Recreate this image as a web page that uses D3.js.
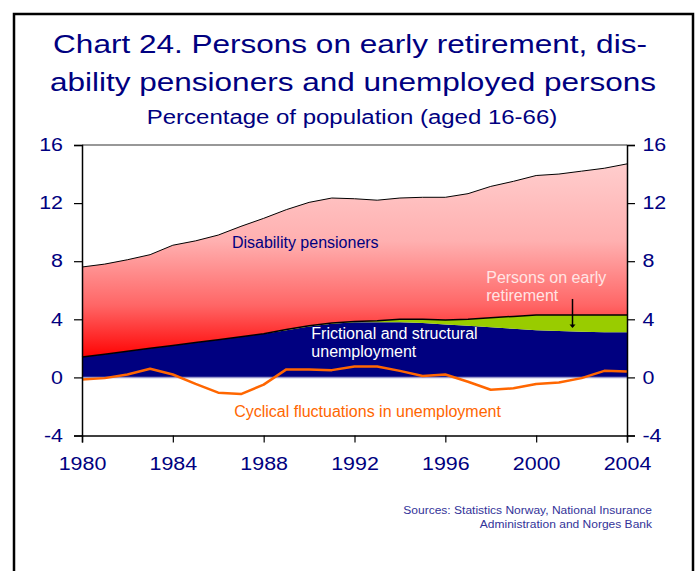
<!DOCTYPE html>
<html>
<head>
<meta charset="utf-8">
<script src="https://cdn.jsdelivr.net/npm/d3@7"></script>
<style>
  body { margin: 0; background: #fff; }
  svg text { font-family: "Liberation Sans", Arial, sans-serif; }
</style>
</head>
<body>
<div id="chart"></div>
<script>
const W = 699, H = 571;

// --- data ---
const years = [1980, 1981, 1982, 1983, 1984, 1985, 1986, 1987, 1988, 1989, 1990, 1991, 1992,
  1993, 1994, 1995, 1996, 1997, 1998, 1999, 2000, 2001, 2002, 2003, 2004];
const frictional = [1.4, 1.6, 1.8, 2.0, 2.2, 2.4, 2.6, 2.8, 3.0, 3.25, 3.5, 3.7, 3.8,
  3.8, 3.8, 3.75, 3.65, 3.55, 3.45, 3.35, 3.25, 3.2, 3.15, 3.1, 3.1];
const earlyRetirement = [0, 0, 0, 0, 0, 0, 0, 0, 0, 0.05, 0.05, 0.05, 0.05,
  0.1, 0.2, 0.25, 0.3, 0.45, 0.65, 0.85, 1.05, 1.1, 1.15, 1.2, 1.2];
const disability = [6.2, 6.2, 6.3, 6.45, 6.9, 7.0, 7.2, 7.6, 7.95, 8.25, 8.5, 8.6, 8.45,
  8.3, 8.35, 8.4, 8.45, 8.65, 9.05, 9.3, 9.6, 9.7, 9.9, 10.1, 10.4];
const cyclical = [-0.15, -0.05, 0.2, 0.6, 0.2, -0.45, -1.05, -1.15, -0.5, 0.55, 0.55, 0.5, 0.75,
  0.75, 0.45, 0.1, 0.2, -0.3, -0.85, -0.75, -0.45, -0.35, -0.05, 0.45, 0.4];
const yTicks = [-4, 0, 4, 8, 12, 16];
const xTicks = [1980, 1984, 1988, 1992, 1996, 2000, 2004];

const NAVY = "#000080";

const svg = d3.select("#chart").append("svg")
  .attr("width", W).attr("height", H);

// outer frame (open at the bottom)
svg.append("path")
  .attr("d", `M14,${H} L14,14 L693,14 L693,${H}`)
  .attr("fill", "none").attr("stroke", "#000").attr("stroke-width", 2.5);

// text in the original is a bit wider than Arial, so stretch it horizontally
function wideText(px, py, sx, size, str) {
  return svg.append("text")
    .attr("transform", `translate(${px},${py}) scale(${sx},1)`)
    .attr("text-anchor", "middle")
    .attr("font-size", size).attr("fill", NAVY)
    .text(str);
}
wideText(350, 53, 1.19, 26.5, "Chart 24. Persons on early retirement, dis-");
wideText(353, 91, 1.19, 26.5, "ability pensioners and unemployed persons");
wideText(352, 124, 1.23, 19.5, "Percentage of population (aged 16-66)");

const x = d3.scaleLinear().domain([1980, 2004]).range([82, 627]);
const y = d3.scaleLinear().domain([-4, 16]).range([435.5, 145]);

// gradient for disability pensioners
const defs = svg.append("defs");
const grad = defs.append("linearGradient")
  .attr("id", "redGrad")
  .attr("gradientUnits", "userSpaceOnUse")
  .attr("x1", 0).attr("x2", 0)
  .attr("y1", y(16)).attr("y2", y(1.3));
[[0, "#ffd4d4"], [0.45, "#ffb0b0"], [0.75, "#ff6666"], [1, "#ff0000"]].forEach(([o, c]) => {
  grad.append("stop").attr("offset", o).attr("stop-color", c);
});

// stacked areas
const rows = years.map((yr, i) => ({
  year: yr,
  frictional: frictional[i],
  early: earlyRetirement[i],
  disability: disability[i]
}));
const keys = ["frictional", "early", "disability"];
const stacked = d3.stack().keys(keys)(rows);
const fills = { frictional: NAVY, early: "#99cc00", disability: "url(#redGrad)" };

const area = d3.area()
  .x(d => x(d.data.year))
  .y0(d => y(d[0]))
  .y1(d => y(d[1]));

svg.append("g").selectAll("path")
  .data(stacked)
  .join("path")
  .attr("d", area)
  .attr("fill", d => fills[d.key]);

// outline lines
const topLine = d3.line().x(d => x(d.data.year)).y(d => y(d[1]));
svg.append("path").datum(stacked[2])
  .attr("d", topLine).attr("fill", "none").attr("stroke", "#000").attr("stroke-width", 1);
svg.append("path").datum(stacked[1])
  .attr("d", topLine).attr("fill", "none").attr("stroke", "#000").attr("stroke-width", 1.5);

// zero line
svg.append("line")
  .attr("x1", x(1980)).attr("x2", x(2004))
  .attr("y1", y(0)).attr("y2", y(0))
  .attr("stroke", "#9999cc").attr("stroke-width", 1.5);

// cyclical line
svg.append("path").datum(years.map((yr, i) => [yr, cyclical[i]]))
  .attr("d", d3.line().x(d => x(d[0])).y(d => y(d[1])))
  .attr("fill", "none").attr("stroke", "#ff6600").attr("stroke-width", 2.5)
  .attr("stroke-linejoin", "round");

// plot frame top
svg.append("line")
  .attr("x1", x(1980)).attr("x2", x(2004))
  .attr("y1", y(16)).attr("y2", y(16))
  .attr("stroke", "#333").attr("stroke-width", 1.2);

// axes
const fmt = d => String(d);
const leftAxis = svg.append("g").attr("transform", `translate(${x(1980)},0)`)
  .call(d3.axisLeft(y).tickValues(yTicks).tickSize(8).tickPadding(8).tickFormat(fmt));
const rightAxis = svg.append("g").attr("transform", `translate(${x(2004)},0)`)
  .call(d3.axisRight(y).tickValues(yTicks).tickSize(8).tickPadding(5).tickFormat(fmt));
const bottomAxis = svg.append("g").attr("transform", `translate(0,${y(-4)})`)
  .call(d3.axisBottom(x).tickValues(xTicks).tickSize(7).tickPadding(15).tickFormat(fmt));

[leftAxis, rightAxis, bottomAxis].forEach(g => {
  g.select(".domain").attr("stroke", "#000").attr("stroke-width", 1.5);
  g.selectAll(".tick line").attr("stroke", "#000").attr("stroke-width", 1.2);
  g.selectAll(".tick text").attr("fill", NAVY).attr("font-size", 18)
    .attr("transform", "scale(1.19,1)")
    .style("font-family", '"Liberation Sans", Arial, sans-serif');
});

// annotations
svg.append("text").attr("x", x(1986.6)).attr("y", y(8.9))
  .attr("font-size", 16).attr("fill", NAVY).text("Disability pensioners");

const fric = svg.append("text").attr("font-size", 16).attr("fill", "#fff");
fric.append("tspan").attr("x", x(1990.1)).attr("y", y(2.65)).text("Frictional and structural");
fric.append("tspan").attr("x", x(1990.1)).attr("y", y(1.4)).text("unemployment");

const early = svg.append("text").attr("font-size", 16).attr("fill", "#ffe4e4");
early.append("tspan").attr("x", x(1997.8)).attr("y", y(6.5)).text("Persons on early");
early.append("tspan").attr("x", x(1997.8)).attr("y", y(5.25)).text("retirement");

// arrow to the early retirement band
svg.append("line")
  .attr("x1", x(2001.6)).attr("x2", x(2001.6))
  .attr("y1", y(5.4)).attr("y2", y(3.5))
  .attr("stroke", "#000").attr("stroke-width", 1.5);
svg.append("path")
  .attr("d", `M${x(2001.6) - 3},${y(3.65)} L${x(2001.6) + 3},${y(3.65)} L${x(2001.6)},${y(3.4)} Z`)
  .attr("fill", "#000");

svg.append("text").attr("x", x(1986.7)).attr("y", y(-2.7))
  .attr("font-size", 16).attr("fill", "#ff6600")
  .text("Cyclical fluctuations in unemployment");

// sources
const src = svg.append("text")
  .attr("transform", "translate(652,0) scale(1.045,1)")
  .attr("font-size", 11.5).attr("fill", "#333399").attr("text-anchor", "end");
src.append("tspan").attr("x", 0).attr("y", 514).text("Sources: Statistics Norway, National Insurance");
src.append("tspan").attr("x", 0).attr("y", 528).text("Administration and Norges Bank");
</script>
</body>
</html>
